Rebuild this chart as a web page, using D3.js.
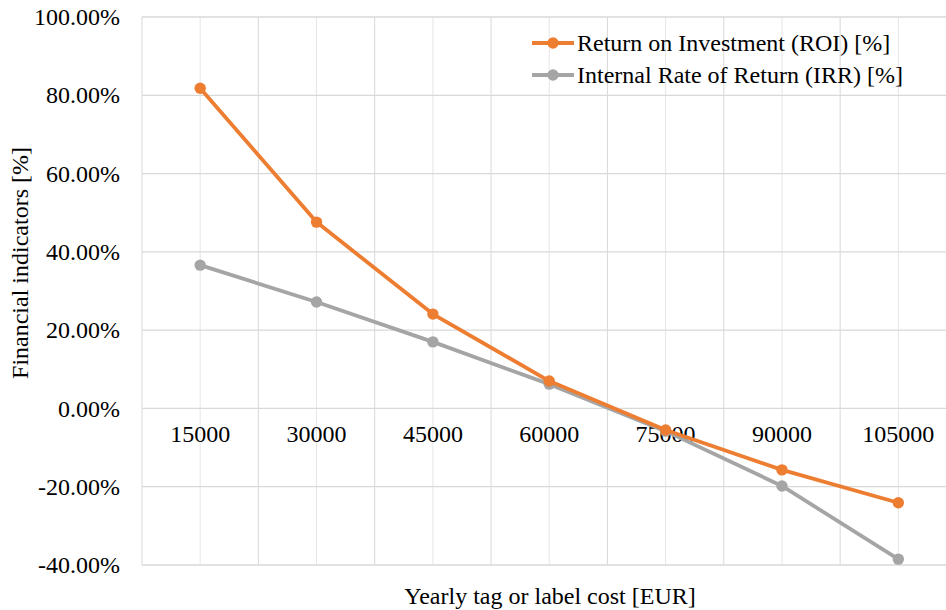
<!DOCTYPE html>
<html>
<head>
<meta charset="utf-8">
<script src="https://cdn.jsdelivr.net/npm/d3@7"></script>
<style>
  body { margin: 0; background: #fff; }
  svg text { font-family: "Liberation Serif", "Times New Roman", Times, serif; fill: #000; font-size: 24px; }
</style>
</head>
<body>
<script>
// data
var costs = ["15000", "30000", "45000", "60000", "75000", "90000", "105000"];
var roi = [81.8, 47.6, 24.1, 7.0, -5.5, -15.7, -24.1];
var irr = [36.6, 27.2, 17.0, 6.2, -5.8, -19.8, -38.5];
var yTicks = [-40, -20, 0, 20, 40, 60, 80, 100];
var seriesNames = ["Return on Investment (ROI) [%]", "Internal Rate of Return (IRR) [%]"];
var seriesColors = ["#ED7D31", "#A5A5A5"];

var serif = "'Liberation Serif', 'Times New Roman', Times, serif";

function init()
{
    var w = 946;
    var h = 610;
    var left = 142, right = 956.5, top = 17, bottom = 565;

    var svg = d3.select("body")
                .append("svg")
                .attr("width", w)
                .attr("height", h);

    var x = d3.scaleBand()
              .domain(costs)
              .range([left, right]);

    var y = d3.scaleLinear()
              .domain([-40, 100])
              .range([bottom, top]);

    // vertical gridlines: category boundaries and centres
    var half = x.bandwidth() / 2;
    var vLines = [];
    costs.forEach(function(c) {
        vLines.push({pos: x(c), major: true});
        vLines.push({pos: x(c) + half, major: false});
    });
    vLines.push({pos: right, major: true});

    svg.selectAll("line.vgrid")
       .data(vLines)
       .enter()
       .append("line")
       .attr("class", "vgrid")
       .attr("x1", function(d) { return d.pos; })
       .attr("x2", function(d) { return d.pos; })
       .attr("y1", top)
       .attr("y2", bottom)
       .style("stroke", function(d) { return d.major ? "#d9d9d9" : "#e6e6e6"; })
       .style("stroke-width", 1);

    svg.selectAll("line.hgrid")
       .data(yTicks)
       .enter()
       .append("line")
       .attr("class", "hgrid")
       .attr("x1", left)
       .attr("x2", right)
       .attr("y1", function(d) { return y(d); })
       .attr("y2", function(d) { return y(d); })
       .style("stroke", "#d9d9d9")
       .style("stroke-width", 1.3);

    // y axis labels
    var yAxis = d3.axisLeft(y)
                  .tickValues(yTicks)
                  .tickSize(0)
                  .tickPadding(22)
                  .tickFormat(function(d) { return d.toFixed(2) + "%"; });
    var gy = svg.append("g")
                .attr("transform", "translate(" + left + ",0)")
                .call(yAxis)
                .attr("font-family", serif)
                .attr("font-size", 24);
    gy.select(".domain").remove();

    // x axis labels sit under the zero line
    var xAxis = d3.axisBottom(x).tickSize(0).tickPadding(17);
    var gx = svg.append("g")
                .attr("transform", "translate(0," + y(0) + ")")
                .call(xAxis)
                .attr("font-family", serif)
                .attr("font-size", 24);
    gx.select(".domain").remove();

    var line = d3.line()
                 .x(function(d, i) { return x(costs[i]) + half; })
                 .y(function(d) { return y(d); });

    var allSeries = [irr, roi];
    var allColors = [seriesColors[1], seriesColors[0]];

    allSeries.forEach(function(s, k) {
        svg.append("path")
           .datum(s)
           .attr("d", line)
           .style("fill", "none")
           .style("stroke", allColors[k])
           .style("stroke-width", 3.8)
           .style("stroke-linejoin", "round");

        svg.selectAll("circle.s" + k)
           .data(s)
           .enter()
           .append("circle")
           .attr("class", "s" + k)
           .attr("cx", function(d, i) { return x(costs[i]) + half; })
           .attr("cy", function(d) { return y(d); })
           .attr("r", 5.7)
           .style("fill", allColors[k]);
    });

    // legend
    var legend = svg.selectAll("g.legend")
                    .data(seriesNames)
                    .enter()
                    .append("g")
                    .attr("class", "legend")
                    .attr("transform", function(d, i) { return "translate(532," + (43 + i * 32) + ")"; });

    legend.append("line")
          .attr("x1", 0)
          .attr("x2", 42)
          .style("stroke", function(d, i) { return seriesColors[i]; })
          .style("stroke-width", 3.8);

    legend.append("circle")
          .attr("cx", 21)
          .attr("r", 5.7)
          .style("fill", function(d, i) { return seriesColors[i]; });

    legend.append("text")
          .attr("x", 45)
          .attr("dy", "0.33em")
          .text(function(d) { return d; });

    // axis titles
    svg.append("text")
       .attr("x", 550)
       .attr("y", 604)
       .attr("text-anchor", "middle")
       .text("Yearly tag or label cost [EUR]");

    svg.append("text")
       .attr("transform", "translate(28,263) rotate(-90)")
       .attr("text-anchor", "middle")
       .text("Financial indicators [%]");
}
window.onload = init
</script>
</body>
</html>
